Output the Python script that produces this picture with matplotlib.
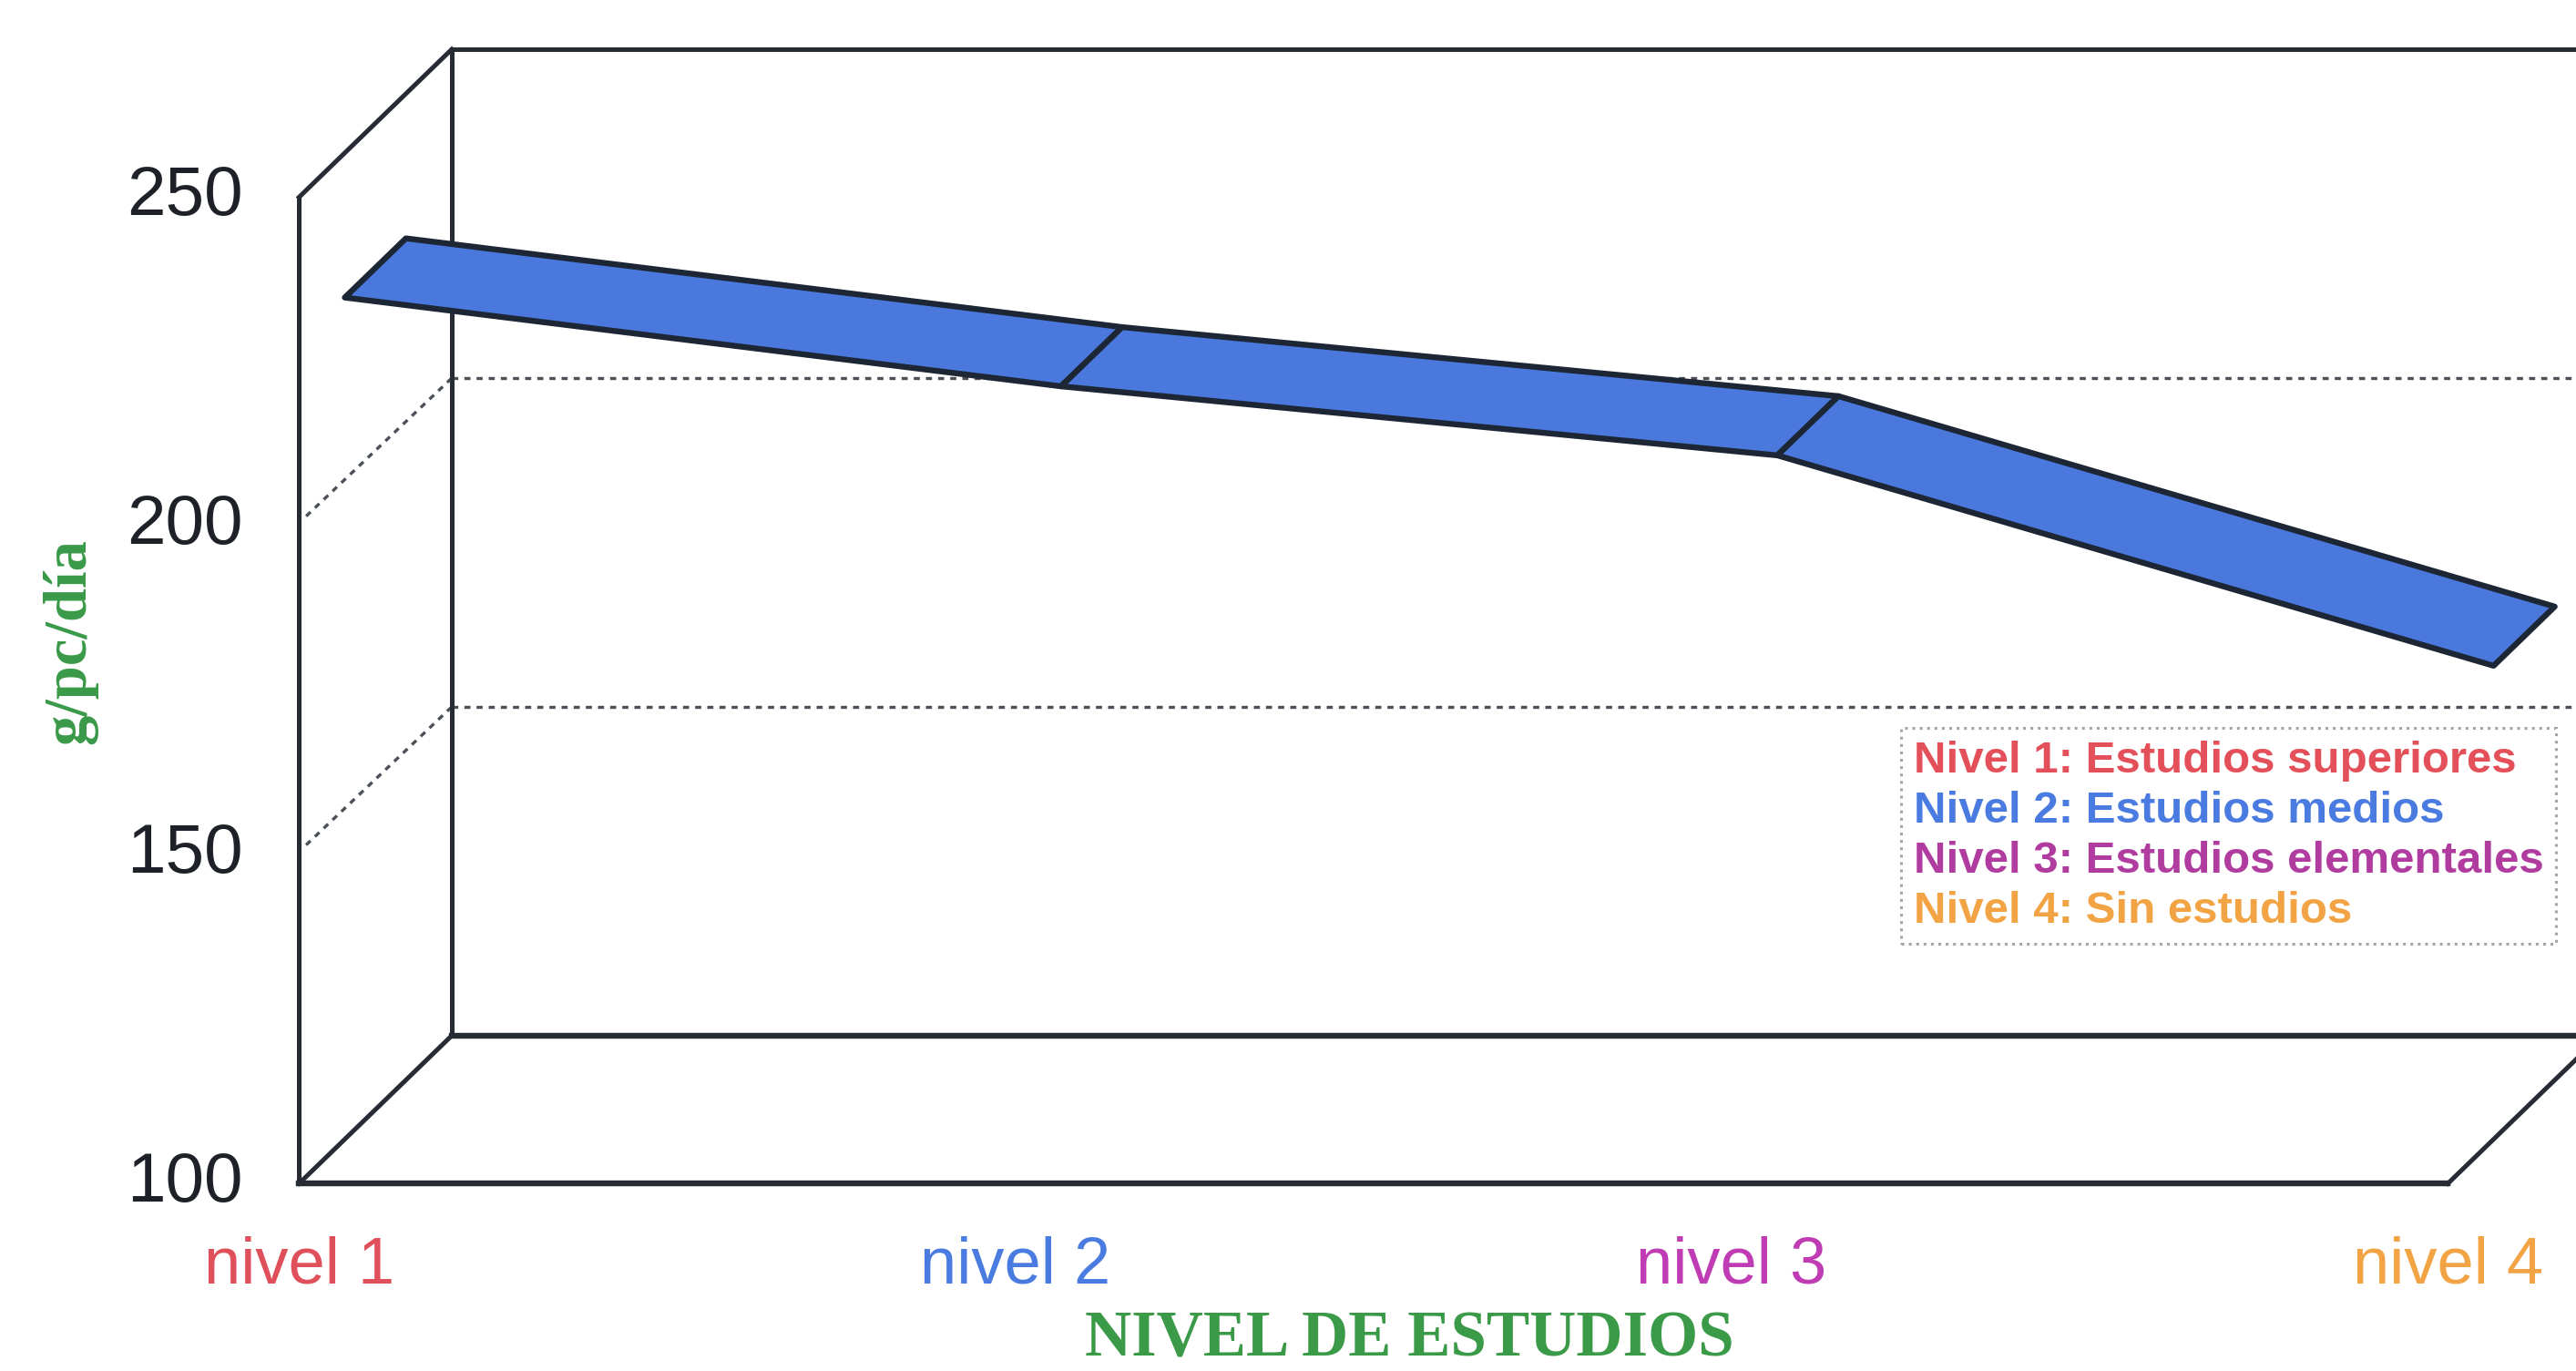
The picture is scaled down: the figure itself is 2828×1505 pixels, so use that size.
import matplotlib

matplotlib.use("Agg")
import matplotlib.pyplot as plt
from matplotlib.lines import Line2D
from matplotlib.patches import Polygon

categories = ["nivel 1", "nivel 2", "nivel 3", "nivel 4"]
values = [228.0, 214.5, 204.0, 172.0]
category_colors = ["#e0505a", "#4a7be0", "#c03cb4", "#f2a444"]
legend_labels = [
    "Nivel 1: Estudios superiores",
    "Nivel 2: Estudios medios",
    "Nivel 3: Estudios elementales",
    "Nivel 4: Sin estudios",
]
legend_colors = ["#e4505a", "#4a7be0", "#b03ca0", "#f2a444"]
y_ticks = [100, 150, 200, 250]
y_label = "g/pc/día"
x_label = "NIVEL DE ESTUDIOS"

# oblique depth of the 3D box, in data units (categories, g/pc/dia)
DEPTH_X = 0.2133
DEPTH_Y = 22.5
RIBBON_FRONT = 0.3
RIBBON_BACK = 0.7
Y_MIN = y_ticks[0]
Y_MAX = y_ticks[-1]

FRAME = "#272c34"
GRID = "#4a4f58"
GREEN = "#3a9a48"


def shift(x, y, depth):
    return x + depth * DEPTH_X, y + depth * DEPTH_Y


def draw_box(ax, n_cat):
    x_end = n_cat - 1
    lw = 3.6
    # left wall
    bx0, by0 = shift(0, Y_MIN, 1)
    bx1, by1 = shift(0, Y_MAX, 1)
    ax.plot([0, 0], [Y_MIN, Y_MAX], color=FRAME, lw=lw, zorder=2)
    ax.plot([0, bx1], [Y_MAX, by1], color=FRAME, lw=lw, zorder=2)
    ax.plot([bx0, bx1], [by0, by1], color=FRAME, lw=lw, zorder=2)
    # back wall top
    ex, ey = shift(x_end, Y_MAX, 1)
    ax.plot([bx1, ex], [by1, ey], color=FRAME, lw=lw, zorder=2)
    # floor
    fx, fy = shift(x_end, Y_MIN, 1)
    ax.plot([0, x_end], [Y_MIN, Y_MIN], color=FRAME, lw=4.6, zorder=2)
    ax.plot([0, bx0], [Y_MIN, by0], color=FRAME, lw=lw, zorder=2)
    ax.plot([bx0, fx], [by0, fy], color=FRAME, lw=4.6, zorder=2)
    ax.plot([x_end, fx], [Y_MIN, fy], color=FRAME, lw=lw, zorder=2)
    # gridlines on side and back walls
    for v in y_ticks[1:-1]:
        sx, sy = shift(0, v, 1)
        gx, gy = shift(x_end, v, 1)
        ax.plot([0.01, sx], [v + 1.5, sy], color=GRID, lw=2.4, dashes=(2.0, 2.0), zorder=1)
        ax.plot([sx, gx], [sy, gy], color=GRID, lw=2.4, dashes=(2.0, 2.0), zorder=1)


def draw_ribbon(ax):
    for i in range(len(values) - 1):
        pts = [
            shift(i, values[i], RIBBON_FRONT),
            shift(i + 1, values[i + 1], RIBBON_FRONT),
            shift(i + 1, values[i + 1], RIBBON_BACK),
            shift(i, values[i], RIBBON_BACK),
        ]
        ax.add_patch(Polygon(pts, closed=True, facecolor="#4a78dc", edgecolor="#1c2634", lw=4.6,
                             joinstyle="round", zorder=3))


def main() -> None:
    plt.rcParams["font.family"] = ["Liberation Sans", "DejaVu Sans"]
    fig = plt.figure(figsize=(28.28, 15.05), dpi=100)
    ax = fig.add_axes([0, 0, 1, 1])
    ax.set_xlim(-0.4174, 3.179)
    ax.set_ylim(71.5, 280)
    ax.axis("off")

    draw_box(ax, len(categories))
    draw_ribbon(ax)

    for v in y_ticks:
        ax.text(-0.078, v, str(v), ha="right", va="center", fontsize=55, color="#1e2228")
    for i, (name, col) in enumerate(zip(categories, category_colors)):
        ax.text(i, 87.5, name, ha="center", va="center", fontsize=52, color=col)

    ax.text(1.55, 76.2, x_label, ha="center", va="center", fontsize=51, fontweight="bold",
            family="Liberation Serif", color=GREEN)
    ax.text(-0.32, 182.5, y_label, ha="center", va="center", rotation=90, fontsize=48,
            fontweight="bold", family="Liberation Serif", color=GREEN)

    handles = [Line2D([], [], lw=0, alpha=0) for _ in legend_labels]
    leg = fig.legend(handles, legend_labels, loc="upper left", bbox_to_anchor=(0.738, 0.469),
                     handlelength=0, handletextpad=0, labelspacing=0.2,
                     borderpad=0.28, borderaxespad=0, fancybox=False, labelcolor=legend_colors,
                     prop={"weight": "bold", "size": 35.5})
    frame = leg.get_frame()
    frame.set_edgecolor("#8a8e94")
    frame.set_linestyle(":")
    frame.set_linewidth(2.2)
    leg.set_zorder(5)

    fig.savefig("out.png", dpi=100, facecolor="white")
    plt.close(fig)


if __name__ == "__main__":
    main()
